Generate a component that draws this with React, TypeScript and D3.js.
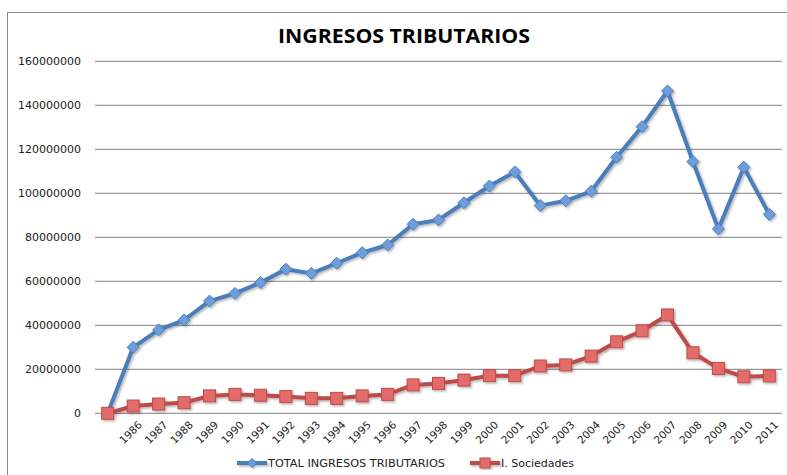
import React from "react";
import * as d3 from "d3";

const categories = ["", "1986", "1987", "1988", "1989", "1990", "1991", "1992", "1993", "1994", "1995", "1996", "1997", "1998", "1999", "2000", "2001", "2002", "2003", "2004", "2005", "2006", "2007", "2008", "2009", "2010", "2011"];
const totalIngresos = [0, 30000000, 37900000, 42400000, 51000000, 54500000, 59400000, 65500000, 63600000, 68200000, 73000000, 76500000, 85900000, 87900000, 95700000, 103300000, 109700000, 94400000, 96600000, 100900000, 116400000, 130300000, 146500000, 114400000, 83800000, 111800000, 90400000];
const sociedades = [0, 3300000, 4200000, 4800000, 7900000, 8600000, 8200000, 7600000, 6800000, 6800000, 7900000, 8600000, 12900000, 13600000, 15100000, 17100000, 17100000, 21500000, 22000000, 26000000, 32500000, 37500000, 44700000, 27500000, 20400000, 16600000, 17000000];
const yTicks = [0, 20000000, 40000000, 60000000, 80000000, 100000000, 120000000, 140000000, 160000000];
const seriesNames = ["TOTAL INGRESOS TRIBUTARIOS", "I. Sociedades"];

const W = 787, H = 475;
const blue = "#4A7EBB", blueFill = "#6D9EDB";
const red = "#BE4B48", redFill = "#E36C6A";

export default function App() {
  const keys = categories.map((c, i) => i + "|" + c);
  const x = d3.scaleBand<string>().domain(keys).range([95, 782]);
  const xc = (i: number) => (x(keys[i]) as number) + x.bandwidth() / 2;
  const y = d3.scaleLinear().domain([0, 160000000]).range([413.3, 61.3]);
  const line = d3.line<number>().x((_, i) => xc(i)).y((d) => y(d));
  const font = "'DejaVu Sans', Verdana, sans-serif";
  const diamond = (cx: number, cy: number, r: number) => `M${cx},${cy - r}L${cx + r},${cy}L${cx},${cy + r}L${cx - r},${cy}Z`;
  return (
    <svg width={W} height={H} style={{ position: "absolute", left: 0, top: 0, display: "block", background: "#fff" }} fontFamily={font}>
      <defs>
        <filter id="sh" x="-20%" y="-20%" width="140%" height="140%">
          <feDropShadow dx="1.5" dy="1.5" stdDeviation="1.2" floodColor="#000" floodOpacity="0.3" />
        </filter>
      </defs>
      <rect x={7.5} y={12.5} width={820} height={500} fill="#fff" stroke="#8a8a8a" strokeWidth={1} />
      <text x={404} y={42.5} textAnchor="middle" fontFamily="'Open Sans', sans-serif" fontWeight={700} fontSize={19} textLength={252} lengthAdjust="spacingAndGlyphs" fill="#000">INGRESOS TRIBUTARIOS</text>
      {yTicks.map((t) => (
        <g key={t}>
          <line x1={95} x2={782} y1={y(t)} y2={y(t)} stroke="#9a9a9a" strokeWidth={1.2} />
          <text x={81} y={y(t)} dy="0.35em" textAnchor="end" fontSize={11} fill="#222">{t}</text>
        </g>
      ))}
      {categories.map((c, i) => c ? (
        <text key={i} transform={`translate(${xc(i) + 7},${423}) rotate(-45)`} textAnchor="end" dy="0.35em" fontSize={10.5} fill="#222">{c}</text>
      ) : null)}
      <g filter="url(#sh)">
        <path d={line(totalIngresos) || ""} fill="none" stroke={blue} strokeWidth={4} strokeLinejoin="round" />
        {totalIngresos.map((v, i) => (
          <path key={i} d={diamond(xc(i), y(v), 6)} fill={blueFill} stroke={blue} strokeWidth={1} />
        ))}
        <path d={line(sociedades) || ""} fill="none" stroke={red} strokeWidth={4} strokeLinejoin="round" />
        {sociedades.map((v, i) => (
          <rect key={i} x={xc(i) - 6} y={y(v) - 6} width={12} height={12} fill={redFill} stroke={red} strokeWidth={1} />
        ))}
      </g>
      <g filter="url(#sh)">
        <line x1={237} x2={267} y1={463} y2={463} stroke={blue} strokeWidth={4} />
        <path d={diamond(252, 463, 4.5)} fill={blueFill} stroke={blue} />
        <line x1={470} x2={500} y1={463} y2={463} stroke={red} strokeWidth={4} />
        <rect x={480} y={458} width={10} height={10} fill={redFill} stroke={red} />
      </g>
      <text x={268} y={463} dy="0.35em" fontSize={11} textLength={177} lengthAdjust="spacingAndGlyphs" fill="#222">{seriesNames[0]}</text>
      <text x={501} y={463} dy="0.35em" fontSize={11} fill="#222">{seriesNames[1]}</text>
    </svg>
  );
}
